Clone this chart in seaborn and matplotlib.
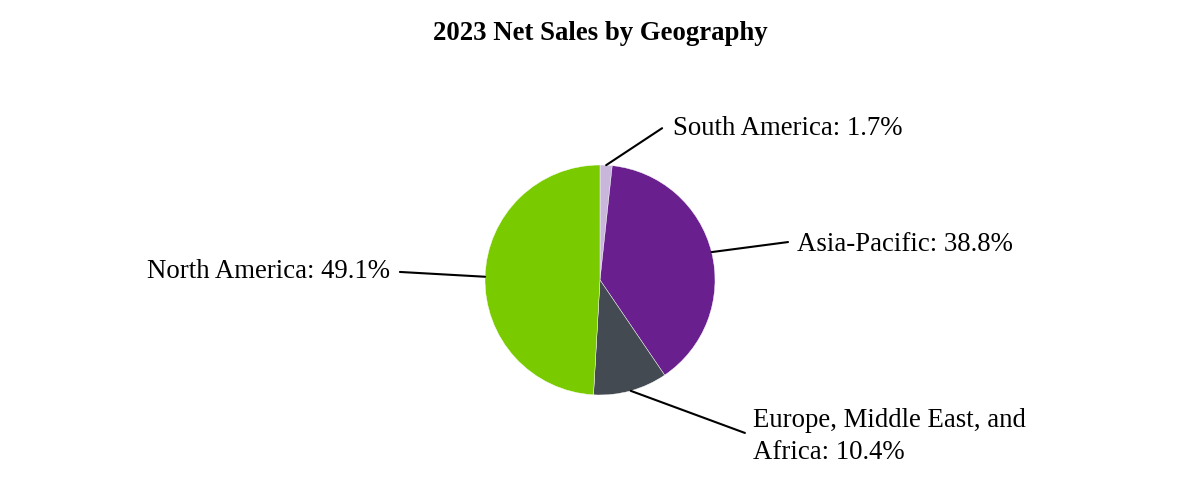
import numpy as np
import seaborn as sns
import matplotlib
matplotlib.use('Agg')
import matplotlib.pyplot as plt

# 数据
regions = ['South America', 'Asia-Pacific', 'Europe, Middle East, and\nAfrica', 'North America']
shares = [1.7, 38.8, 10.4, 49.1]
colors = ['#C8B7DA', '#6A1F8E', '#434A51', '#79CB00']

# 标签位置 (线的终点, 文字位置, 对齐方式)
label_pos = [
    ((0.54, 1.32), (0.635, 1.32), 'left'),
    ((1.635, 0.33), (1.713, 0.31), 'left'),
    ((1.26, -1.33), (1.33, -1.36), 'left'),
    ((-1.74, 0.07), (-1.83, 0.07), 'right'),
]

sns.set_theme(style='white')
plt.rcParams['font.family'] = ['Liberation Serif', 'DejaVu Serif']

fig = plt.figure(figsize=(12, 5), dpi=100)
# 饼图中心 (600, 280)，半径 115 像素
ax = fig.add_axes([485 / 1200, 1 - 395 / 500, 230 / 1200, 230 / 500])

wedges, _ = ax.pie(shares, colors=colors, startangle=90, counterclock=False,
                   radius=1, wedgeprops=dict(linewidth=0.3, edgecolor='white'))
ax.set_xlim(-1, 1)
ax.set_ylim(-1, 1)
ax.set_aspect('equal')
ax.axis('off')

for w, name, val, (end, txt, ha) in zip(wedges, regions, shares, label_pos):
    ang = np.deg2rad((w.theta1 + w.theta2) / 2)
    edge = (np.cos(ang), np.sin(ang))
    ax.annotate('', xy=edge, xytext=end, annotation_clip=False,
                arrowprops=dict(arrowstyle='-', lw=1.5, color='black', shrinkA=0, shrinkB=0))
    ax.text(txt[0], txt[1], f'{name}: {val}%', ha=ha, va='center',
            fontsize=19.3, color='black', clip_on=False, linespacing=1.4)

fig.suptitle('2023 Net Sales by Geography', y=0.958, fontsize=19.3,
             fontweight='bold', color='black')

fig.savefig('out.png', dpi=100)
